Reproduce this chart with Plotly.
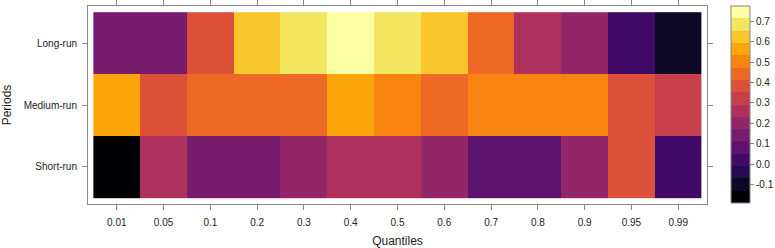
import plotly.graph_objects as go

quantiles = ["0.01", "0.05", "0.1", "0.2", "0.3", "0.4", "0.5", "0.6", "0.7", "0.8", "0.9", "0.95", "0.99"]
periods = ["Short-run", "Medium-run", "Long-run"]

short_run = [-0.19, 0.26, 0.14, 0.14, 0.20, 0.26, 0.27, 0.20, 0.08, 0.08, 0.20, 0.38, 0.02]
medium_run = [0.57, 0.38, 0.45, 0.44, 0.44, 0.56, 0.50, 0.44, 0.51, 0.50, 0.51, 0.38, 0.32]
long_run = [0.14, 0.15, 0.38, 0.62, 0.69, 0.775, 0.68, 0.63, 0.44, 0.26, 0.20, 0.02, -0.10]

colorbar_ticks = [-0.1, 0.0, 0.1, 0.2, 0.3, 0.4, 0.5, 0.6, 0.7]
zmin, zmax = -0.19, 0.775
n_levels = 16

inferno16 = ["#000004", "#0C0826", "#240C4F", "#420A68", "#5D126E", "#781C6D",
             "#932667", "#AE305C", "#C73E4C", "#DC5039", "#ED6925", "#F8850F",
             "#FCA50A", "#FAC62D", "#F2E661", "#FCFFA4"]

cs = []
for i, c in enumerate(inferno16):
    cs.append([i / n_levels, c])
    cs.append([(i + 1) / n_levels, c])

z = [short_run, medium_run, long_run]
xs = list(range(len(quantiles)))
ys = list(range(len(periods)))

font = "Liberation Sans, Arial, sans-serif"
fig = go.Figure(go.Heatmap(
    z=z, x=xs, y=ys, colorscale=cs, zmin=zmin, zmax=zmax,
    colorbar=dict(
        thickness=19, lenmode="pixels", len=197, x=1.0388, xanchor="left",
        y=1, yanchor="top", ypad=0, xpad=0,
        outlinewidth=1, outlinecolor="#888",
        tickvals=colorbar_ticks, ticktext=[f"{v:.1f}" for v in colorbar_ticks],
        ticks="outside", ticklen=4, tickcolor="#888",
        tickfont=dict(size=10, color="#222", family=font),
    ),
))

fig.update_layout(
    width=775, height=248,
    margin=dict(l=88, r=68, t=6, b=44, autoexpand=False),
    plot_bgcolor="white", paper_bgcolor="white",
    font=dict(family=font, color="#222"),
    xaxis=dict(
        range=[-0.615, 12.615], tickvals=xs, ticktext=quantiles, automargin=False,
        showline=True, mirror="ticks", linecolor="#888", linewidth=1,
        ticks="outside", ticklen=5, tickcolor="#888", showgrid=False, zeroline=False,
        tickfont=dict(size=10, color="#222"), ticklabelstandoff=4,
        title=dict(text="Quantiles", font=dict(size=12, color="#222"), standoff=10),
    ),
    yaxis=dict(
        range=[-0.6, 2.6], tickvals=ys, ticktext=periods, automargin=False,
        showline=True, mirror="ticks", linecolor="#888", linewidth=1,
        ticks="outside", ticklen=5, tickcolor="#888", showgrid=False, zeroline=False,
        tickfont=dict(size=10, color="#222"), ticklabelstandoff=3,
        title=dict(text="Periods", font=dict(size=12, color="#222"), standoff=10),
    ),
)

fig.write_html("out.html", config={"displayModeBar": False},
               post_script="document.body.style.margin='0';document.body.style.overflow='hidden';")
